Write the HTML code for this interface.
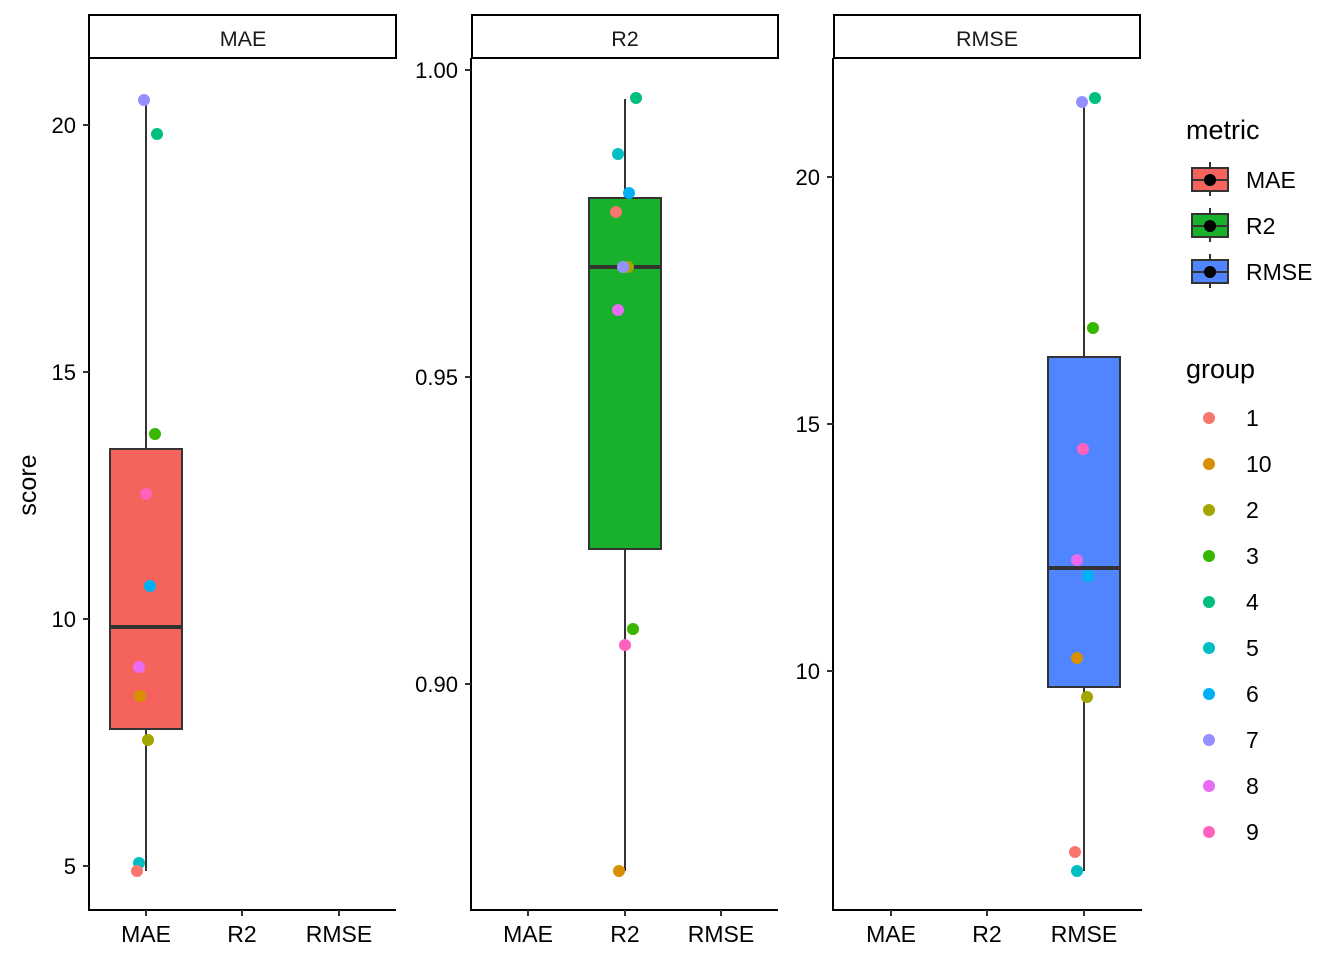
<!DOCTYPE html>
<html><head><meta charset="utf-8"><style>body{margin:0;background:#fff}svg{display:block}text{font-family:"Liberation Sans",Arial,sans-serif}</style></head><body>
<svg width="1344" height="960" viewBox="0 0 1344 960" xmlns="http://www.w3.org/2000/svg">
<g fill="none" stroke="#000" stroke-width="2">
<rect x="89" y="15" width="307" height="43" fill="#fff"/>
<rect x="472" y="15" width="306" height="43" fill="#fff"/>
<rect x="834" y="15" width="306" height="43" fill="#fff"/>
<polyline points="89,58 89,910 396,910"/>
<polyline points="471,58 471,910 778,910"/>
<polyline points="833,58 833,910 1142,910"/>
</g>
<g font-size="21.5" text-anchor="middle" fill="#1a1a1a">
<text x="243" y="46">MAE</text><text x="625" y="46">R2</text><text x="987" y="46">RMSE</text>
</g>
<g stroke="#333" stroke-width="2">
<line x1="83" y1="125" x2="89" y2="125"/><line x1="83" y1="372" x2="89" y2="372"/><line x1="83" y1="619" x2="89" y2="619"/><line x1="83" y1="866" x2="89" y2="866"/>
<line x1="465" y1="70" x2="471" y2="70"/><line x1="465" y1="377" x2="471" y2="377"/><line x1="465" y1="684" x2="471" y2="684"/>
<line x1="827" y1="177" x2="833" y2="177"/><line x1="827" y1="424" x2="833" y2="424"/><line x1="827" y1="671" x2="833" y2="671"/>
<line x1="146" y1="910" x2="146" y2="916"/><line x1="242" y1="910" x2="242" y2="916"/><line x1="339" y1="910" x2="339" y2="916"/>
<line x1="528" y1="910" x2="528" y2="916"/><line x1="625" y1="910" x2="625" y2="916"/><line x1="721" y1="910" x2="721" y2="916"/>
<line x1="891" y1="910" x2="891" y2="916"/><line x1="987" y1="910" x2="987" y2="916"/><line x1="1084" y1="910" x2="1084" y2="916"/>
</g>
<g font-size="22" text-anchor="end" fill="#000">
<text x="76" y="133">20</text><text x="76" y="380">15</text><text x="76" y="627">10</text><text x="76" y="874">5</text>
<text x="458" y="78">1.00</text><text x="458" y="385">0.95</text><text x="458" y="692">0.90</text>
<text x="820" y="185">20</text><text x="820" y="432">15</text><text x="820" y="679">10</text>
</g>
<g font-size="23" text-anchor="middle" fill="#000">
<text x="146" y="942">MAE</text><text x="242" y="942">R2</text><text x="339" y="942">RMSE</text>
<text x="528" y="942">MAE</text><text x="625" y="942">R2</text><text x="721" y="942">RMSE</text>
<text x="891" y="942">MAE</text><text x="987" y="942">R2</text><text x="1084" y="942">RMSE</text>
</g>
<text x="36" y="485" font-size="25" text-anchor="middle" transform="rotate(-90 36 485)">score</text>
<g stroke="#333" stroke-width="2">
<line x1="146" y1="100" x2="146" y2="871"/>
<rect x="110" y="449" width="72" height="280" fill="#F5645C"/>
<line x1="110" y1="627" x2="182" y2="627" stroke-width="4"/>
<line x1="625" y1="99" x2="625" y2="871"/>
<rect x="589" y="198" width="72" height="351" fill="#19B12C"/>
<line x1="589" y1="267" x2="661" y2="267" stroke-width="4"/>
<line x1="1084" y1="98" x2="1084" y2="871"/>
<rect x="1048" y="357" width="72" height="330" fill="#4F86FF"/>
<line x1="1048" y1="568" x2="1120" y2="568" stroke-width="4"/>
</g>
<g>
<circle cx="144" cy="100" r="6" fill="#9590FF"/><circle cx="157" cy="134" r="6" fill="#00BF7D"/><circle cx="155" cy="434" r="6" fill="#39B600"/><circle cx="146" cy="494" r="6" fill="#FF62BC"/><circle cx="150" cy="586" r="6" fill="#00B0F6"/><circle cx="139" cy="667" r="6" fill="#E76BF3"/><circle cx="140" cy="696" r="6" fill="#D89000"/><circle cx="148" cy="740" r="6" fill="#A3A500"/><circle cx="139" cy="863" r="6" fill="#00BFC4"/><circle cx="137" cy="871" r="6" fill="#F8766D"/>
<circle cx="636" cy="98" r="6" fill="#00BF7D"/><circle cx="618" cy="154" r="6" fill="#00BFC4"/><circle cx="629" cy="193" r="6" fill="#00B0F6"/><circle cx="616" cy="212" r="6" fill="#F8766D"/><circle cx="628" cy="267" r="6" fill="#A3A500"/><circle cx="623" cy="267" r="6" fill="#9590FF"/><circle cx="618" cy="310" r="6" fill="#E76BF3"/><circle cx="633" cy="629" r="6" fill="#39B600"/><circle cx="625" cy="645" r="6" fill="#FF62BC"/><circle cx="619" cy="871" r="6" fill="#D89000"/>
<circle cx="1082" cy="102" r="6" fill="#9590FF"/><circle cx="1095" cy="98" r="6" fill="#00BF7D"/><circle cx="1093" cy="328" r="6" fill="#39B600"/><circle cx="1083" cy="449" r="6" fill="#FF62BC"/><circle cx="1077" cy="560" r="6" fill="#E76BF3"/><circle cx="1088" cy="576" r="6" fill="#00B0F6"/><circle cx="1077" cy="658" r="6" fill="#D89000"/><circle cx="1087" cy="697" r="6" fill="#A3A500"/><circle cx="1075" cy="852" r="6" fill="#F8766D"/><circle cx="1077" cy="871" r="6" fill="#00BFC4"/>
</g>
<text x="1186" y="139" font-size="27">metric</text>
<g stroke="#333" stroke-width="2">
<line x1="1210" y1="162" x2="1210" y2="196"/><rect x="1192" y="168" width="36" height="23" fill="#F5645C"/><line x1="1192" y1="180" x2="1228" y2="180"/>
<line x1="1210" y1="208" x2="1210" y2="242"/><rect x="1192" y="214" width="36" height="23" fill="#19B12C"/><line x1="1192" y1="226" x2="1228" y2="226"/>
<line x1="1210" y1="254" x2="1210" y2="288"/><rect x="1192" y="260" width="36" height="23" fill="#4F86FF"/><line x1="1192" y1="272" x2="1228" y2="272"/>
</g>
<circle cx="1210" cy="180" r="6"/><circle cx="1210" cy="226" r="6"/><circle cx="1210" cy="272" r="6"/>
<g font-size="23" fill="#000">
<text x="1246" y="188">MAE</text><text x="1246" y="234">R2</text><text x="1246" y="280">RMSE</text>
</g>
<text x="1186" y="378" font-size="27">group</text>
<g font-size="23" fill="#000">
<circle cx="1209" cy="418" r="6" fill="#F8766D"/><text x="1246" y="426">1</text>
<circle cx="1209" cy="464" r="6" fill="#D89000"/><text x="1246" y="472">10</text>
<circle cx="1209" cy="510" r="6" fill="#A3A500"/><text x="1246" y="518">2</text>
<circle cx="1209" cy="556" r="6" fill="#39B600"/><text x="1246" y="564">3</text>
<circle cx="1209" cy="602" r="6" fill="#00BF7D"/><text x="1246" y="610">4</text>
<circle cx="1209" cy="648" r="6" fill="#00BFC4"/><text x="1246" y="656">5</text>
<circle cx="1209" cy="694" r="6" fill="#00B0F6"/><text x="1246" y="702">6</text>
<circle cx="1209" cy="740" r="6" fill="#9590FF"/><text x="1246" y="748">7</text>
<circle cx="1209" cy="786" r="6" fill="#E76BF3"/><text x="1246" y="794">8</text>
<circle cx="1209" cy="832" r="6" fill="#FF62BC"/><text x="1246" y="840">9</text>
</g>
</svg>
</body></html>
